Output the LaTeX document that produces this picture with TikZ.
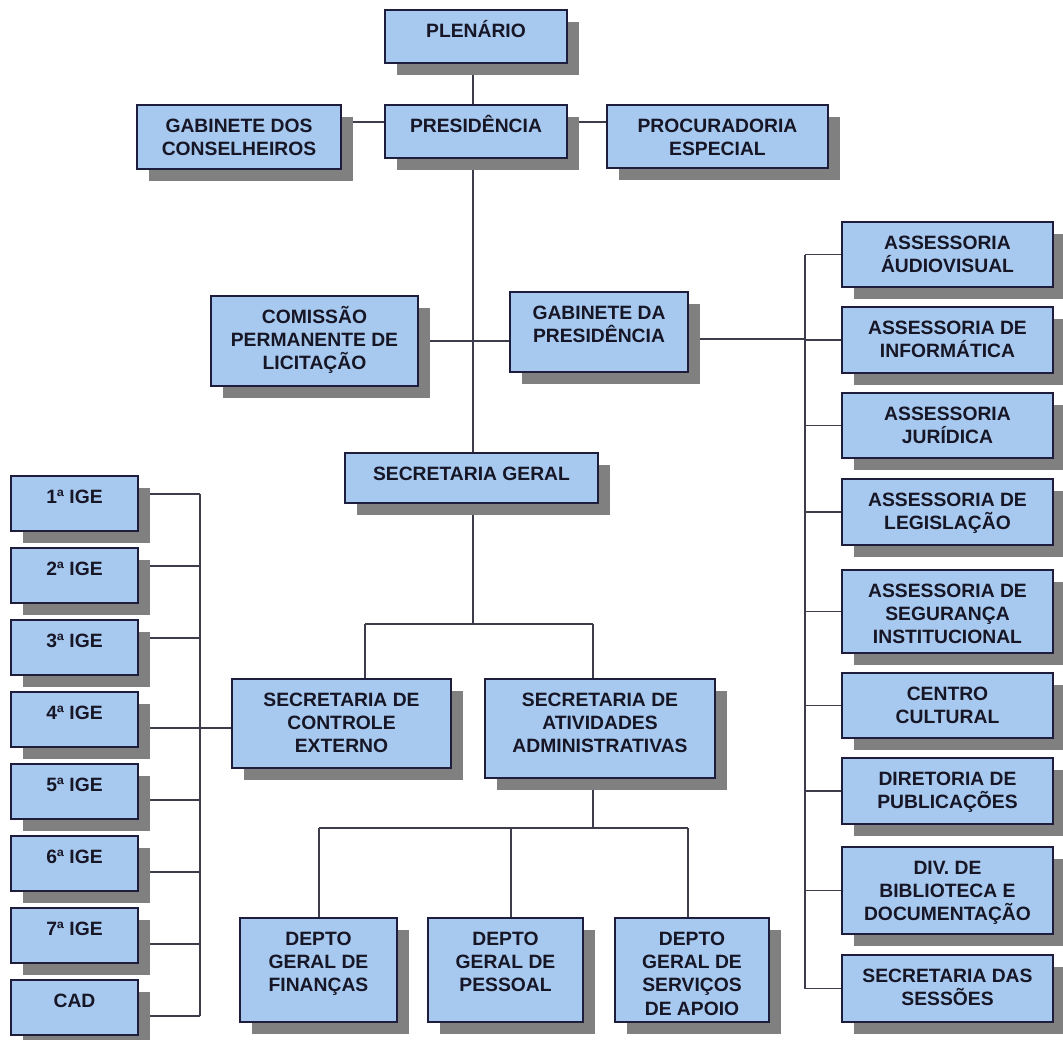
\documentclass[tikz,border=0pt]{standalone}
\usepackage{fontspec}
\setmainfont{Liberation Sans}
\usetikzlibrary{shadows,backgrounds}
\definecolor{boxfill}{HTML}{A8C9EF}
\definecolor{boxline}{HTML}{1E1E3C}
\definecolor{shadowc}{HTML}{808080}
\definecolor{linkc}{HTML}{3C3C4A}
\definecolor{txtc}{HTML}{161626}
\tikzset{
  orgbox/.style={draw=boxline, line width=1.4pt, fill=boxfill, inner sep=0pt, outer sep=0pt,
    drop shadow={shadow xshift=12pt, shadow yshift=-12pt, fill=shadowc, opacity=1}},
  orgtxt/.style={inner sep=0pt, align=center, text=txtc, font=\fontsize{19.3}{23.3}\selectfont\bfseries},
  link/.style={draw=linkc, line width=1.3pt}
}
\newcommand\orgunit[6]{%
  \pgfmathsetmacro\ouw{#4-#2}\pgfmathsetmacro\ouh{#5-#3}%
  \pgfmathsetmacro\oux{(#2+#4)/2}\pgfmathsetmacro\ouy{(#3+#5)/2}%
  \node[orgbox, minimum width=\ouw pt, minimum height=\ouh pt] (#1) at ({\oux},{\ouy}) {};
  \node[orgtxt, anchor=north] (#1t) at ({\oux},{#3+8}) {\rule{0pt}{19pt}#6};
}
\begin{document}
\begin{tikzpicture}[x=1pt, y=-1pt]
\useasboundingbox (0,0) rectangle (1063,1039);

% top
\orgunit{plen}{385}{10}{567}{63}{PLENÁRIO}
\orgunit{gabcons}{137}{105}{341}{169}{GABINETE DOS\\CONSELHEIROS}
\orgunit{pres}{385}{105}{567}{158}{PRESIDÊNCIA}
\orgunit{proc}{607}{105}{828}{168}{PROCURADORIA\\ESPECIAL}
\orgunit{cpl}{211}{296}{418}{386}{COMISSÃO\\PERMANENTE DE\\LICITAÇÃO}
\orgunit{gabpres}{510}{292}{688}{372}{GABINETE DA\\PRESIDÊNCIA}
\orgunit{secger}{345}{453}{598}{503}{SECRETARIA GERAL}
\orgunit{sce}{232}{679}{451}{768}{SECRETARIA DE\\CONTROLE\\EXTERNO}
\orgunit{saa}{485}{679}{715}{778}{SECRETARIA DE\\ATIVIDADES\\ADMINISTRATIVAS}
\orgunit{dfin}{240}{918}{397}{1022}{DEPTO\\GERAL DE\\FINANÇAS}
\orgunit{dpes}{428}{918}{583}{1022}{DEPTO\\GERAL DE\\PESSOAL}
\orgunit{dserv}{615}{918}{769}{1022}{DEPTO\\GERAL DE\\SERVIÇOS\\DE APOIO}

% left column
\orgunit{ige1}{11}{476}{138}{531}{1ª IGE}
\orgunit{ige2}{11}{548}{138}{603}{2ª IGE}
\orgunit{ige3}{11}{620}{138}{675}{3ª IGE}
\orgunit{ige4}{11}{692}{138}{747}{4ª IGE}
\orgunit{ige5}{11}{764}{138}{819}{5ª IGE}
\orgunit{ige6}{11}{836}{138}{891}{6ª IGE}
\orgunit{ige7}{11}{908}{138}{963}{7ª IGE}
\orgunit{cad}{11}{980}{138}{1035}{CAD}

% right column
\orgunit{ra}{842}{222}{1053}{287}{ASSESSORIA\\ÁUDIOVISUAL}
\orgunit{rb}{842}{307}{1053}{373}{ASSESSORIA DE\\INFORMÁTICA}
\orgunit{rc}{842}{393}{1053}{458}{ASSESSORIA\\JURÍDICA}
\orgunit{rd}{842}{479}{1053}{545}{ASSESSORIA DE\\LEGISLAÇÃO}
\orgunit{re}{842}{570}{1053}{653}{ASSESSORIA DE\\SEGURANÇA\\INSTITUCIONAL}
\orgunit{rf}{842}{673}{1053}{738}{CENTRO\\CULTURAL}
\orgunit{rg}{842}{758}{1053}{824}{DIRETORIA DE\\PUBLICAÇÕES}
\orgunit{rh}{842}{847}{1053}{934}{DIV. DE\\BIBLIOTECA E\\DOCUMENTAÇÃO}
\orgunit{ri}{842}{955}{1053}{1022}{SECRETARIA DAS\\SESSÕES}

% junction coordinates
\coordinate (vx) at (473,0);
\coordinate (rbus) at (805,0);
\coordinate (lbus) at (200,0);
\coordinate (sgj) at (473,624);
\coordinate (sgl) at (365,624);
\coordinate (sgr) at (593,624);
\coordinate (saj) at (593,828);
\coordinate (dl) at (319,828);
\coordinate (dm) at (511,828);
\coordinate (dr) at (688,828);
\coordinate (lb1) at (200,494);
\coordinate (lb2) at (200,566);
\coordinate (lb3) at (200,638);
\coordinate (lb4) at (200,728);
\coordinate (lb5) at (200,800);
\coordinate (lb6) at (200,872);
\coordinate (lb7) at (200,944);
\coordinate (lb8) at (200,1016);
\coordinate (gpj) at (805,339);

\begin{scope}[on background layer]
  % top spine
  \draw[link] (plen.south -| vx) -- (pres.north -| vx);
  \draw[link] (pres.south -| vx) -- (secger.north -| vx);
  \draw[link] ([yshift=9.5pt]pres.west) -- ([yshift=9.5pt]pres.west -| gabcons.east);
  \draw[link] ([yshift=9.5pt]pres.east) -- ([yshift=9.5pt]pres.east -| proc.west);
  \draw[link] (cpl.east) -- (cpl.east -| gabpres.west);
  % right bus
  \draw[link] (gpj -| gabpres.east) -- (gpj);
  \draw[link] (ra.west -| rbus) -- (ri.west -| rbus);
  \foreach \r in {ra,rb,rc,rd,re,rf,rg,rh,ri}
    \draw[link] (\r.west) -- (\r.west -| rbus);
  % secretaria geral
  \draw[link] (secger.south -| sgj) -- (sgj);
  \draw[link] (sgl) -- (sgr);
  \draw[link] (sgl) -- (sgl |- sce.north);
  \draw[link] (sgr) -- (sgr |- saa.north);
  % departamentos
  \draw[link] (saa.south -| saj) -- (saj);
  \draw[link] (dl) -- (dr);
  \draw[link] (dl) -- (dl |- dfin.north);
  \draw[link] (dm) -- (dm |- dpes.north);
  \draw[link] (dr) -- (dr |- dserv.north);
  % left bus
  \draw[link] (lb1) -- (lb8);
  \draw[link] (lb1) -- (lb1 -| ige1.east);
  \draw[link] (lb2) -- (lb2 -| ige2.east);
  \draw[link] (lb3) -- (lb3 -| ige3.east);
  \draw[link] (lb4 -| ige4.east) -- (lb4 -| sce.west);
  \draw[link] (lb5) -- (lb5 -| ige5.east);
  \draw[link] (lb6) -- (lb6 -| ige6.east);
  \draw[link] (lb7) -- (lb7 -| ige7.east);
  \draw[link] (lb8) -- (lb8 -| cad.east);
\end{scope}
\end{tikzpicture}
\end{document}
